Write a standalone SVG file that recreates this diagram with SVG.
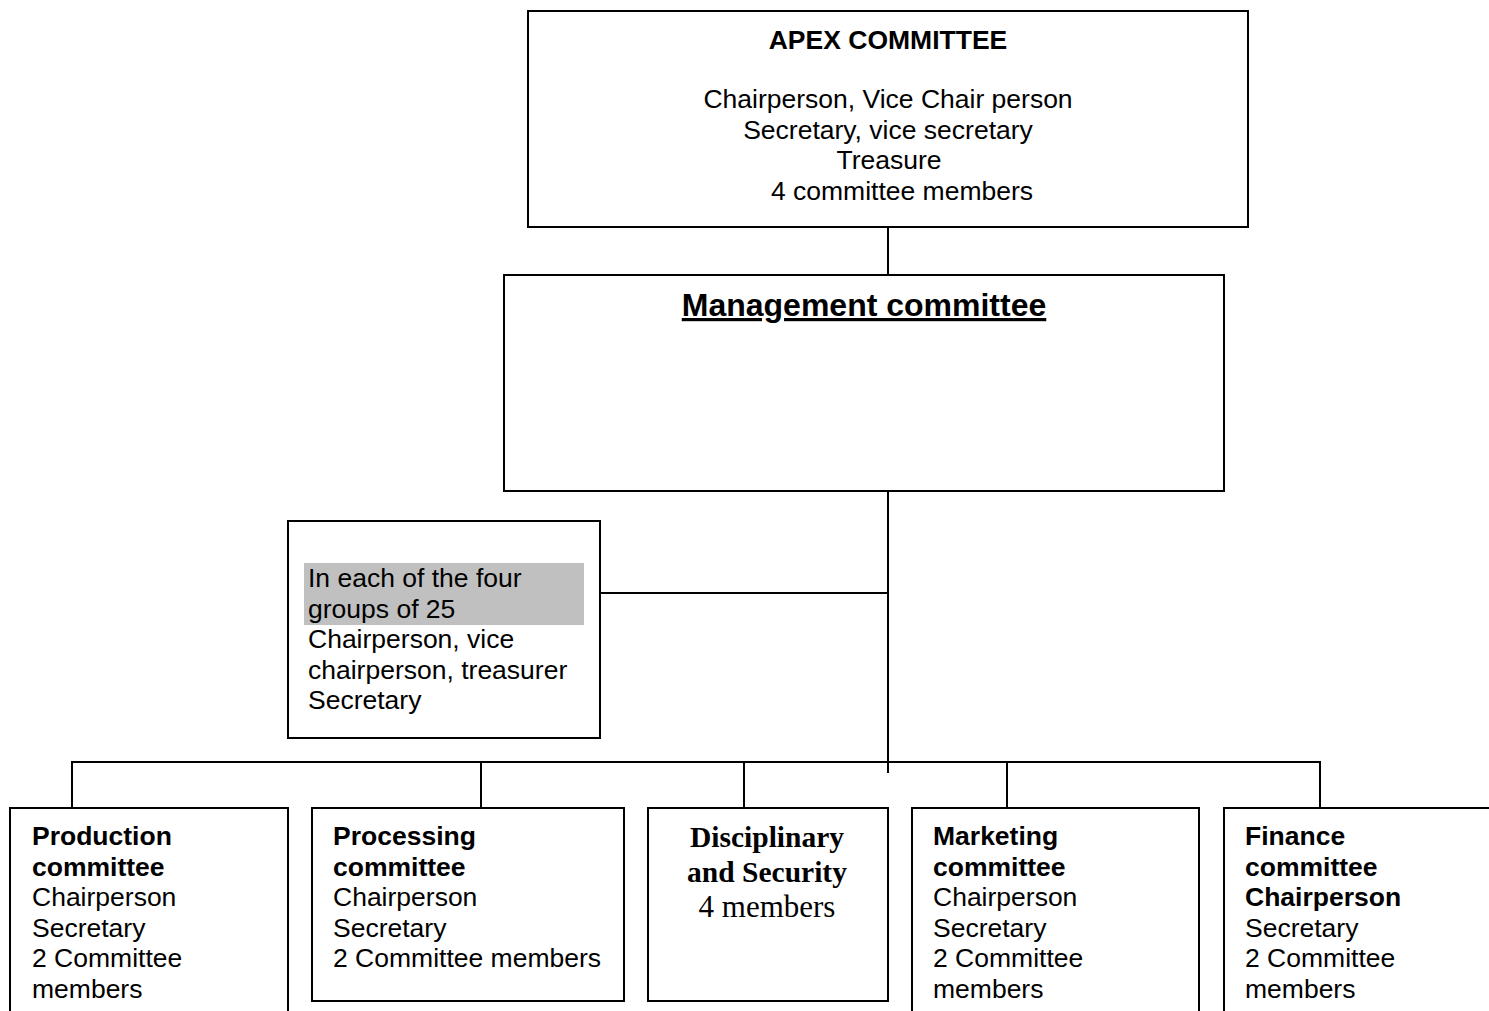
<svg xmlns="http://www.w3.org/2000/svg" width="1489" height="1011" viewBox="0 0 1489 1011">
<style>
.box{fill:#fff;stroke:#000;stroke-width:2}
.ln{stroke:#000;stroke-width:2;fill:none}
.t{font-family:"Liberation Sans",Arial,sans-serif;font-size:26.5px;fill:#000}
.b{font-weight:bold}
.c{text-anchor:middle}
.tm{font-family:"Liberation Serif","Times New Roman",serif;fill:#000;text-anchor:middle}
</style>
<rect width="1489" height="1011" fill="#fff"/>
<g id="connectors">
<line class="ln" x1="888" y1="227" x2="888" y2="275"/>
<line class="ln" x1="888" y1="491" x2="888" y2="773"/>
<line class="ln" x1="600" y1="593" x2="888" y2="593"/>
<line class="ln" x1="71" y1="762" x2="1321" y2="762"/>
<line class="ln" x1="72" y1="762" x2="72" y2="808"/>
<line class="ln" x1="481" y1="762" x2="481" y2="808"/>
<line class="ln" x1="744" y1="762" x2="744" y2="808"/>
<line class="ln" x1="1007" y1="762" x2="1007" y2="808"/>
<line class="ln" x1="1320" y1="762" x2="1320" y2="808"/>
</g>
<g id="apex">
<rect class="box" x="528" y="11" width="720" height="216"/>
<text class="t b c" x="888" y="49">APEX COMMITTEE</text>
<text class="t c" x="888" y="108">Chairperson, Vice Chair person</text>
<text class="t c" x="888" y="139">Secretary, vice secretary</text>
<text class="t c" x="889" y="169">Treasure</text>
<text class="t c" x="902" y="200">4 committee members</text>
</g>
<g id="management">
<rect class="box" x="504" y="275" width="720" height="216"/>
<text class="t b c" x="864" y="316" style="font-size:32px;text-decoration:underline">Management committee</text>
</g>
<g id="groups">
<rect class="box" x="288" y="521" width="312" height="217"/>
<rect x="304" y="563" width="280" height="62" fill="#c0c0c0"/>
<text class="t" x="308" y="587">In each of the four</text>
<text class="t" x="308" y="618">groups of 25</text>
<text class="t" x="308" y="648">Chairperson, vice</text>
<text class="t" x="308" y="679">chairperson, treasurer</text>
<text class="t" x="308" y="709">Secretary</text>
</g>
<g id="production">
<rect class="box" x="10" y="808" width="278" height="215"/>
<text class="t b" x="32" y="845">Production</text>
<text class="t b" x="32" y="876">committee</text>
<text class="t" x="32" y="906">Chairperson</text>
<text class="t" x="32" y="937">Secretary</text>
<text class="t" x="32" y="967">2 Committee</text>
<text class="t" x="32" y="998">members</text>
</g>
<g id="processing">
<rect class="box" x="312" y="808" width="312" height="193"/>
<text class="t b" x="333" y="845">Processing</text>
<text class="t b" x="333" y="876">committee</text>
<text class="t" x="333" y="906">Chairperson</text>
<text class="t" x="333" y="937">Secretary</text>
<text class="t" x="333" y="967">2 Committee members</text>
</g>
<g id="disciplinary">
<rect class="box" x="648" y="808" width="240" height="193"/>
<text class="tm" x="767" y="847" style="font-size:29.5px;font-weight:bold">Disciplinary</text>
<text class="tm" x="767" y="882" style="font-size:29.5px;font-weight:bold">and Security</text>
<text class="tm" x="767" y="917" style="font-size:31px">4 members</text>
</g>
<g id="marketing">
<rect class="box" x="912" y="808" width="287" height="215"/>
<text class="t b" x="933" y="845">Marketing</text>
<text class="t b" x="933" y="876">committee</text>
<text class="t" x="933" y="906">Chairperson</text>
<text class="t" x="933" y="937">Secretary</text>
<text class="t" x="933" y="967">2 Committee</text>
<text class="t" x="933" y="998">members</text>
</g>
<g id="finance">
<rect class="box" x="1224" y="808" width="280" height="215"/>
<text class="t b" x="1245" y="845">Finance</text>
<text class="t b" x="1245" y="876">committee</text>
<text class="t b" x="1245" y="906">Chairperson</text>
<text class="t" x="1245" y="937">Secretary</text>
<text class="t" x="1245" y="967">2 Committee</text>
<text class="t" x="1245" y="998">members</text>
</g>
</svg>
